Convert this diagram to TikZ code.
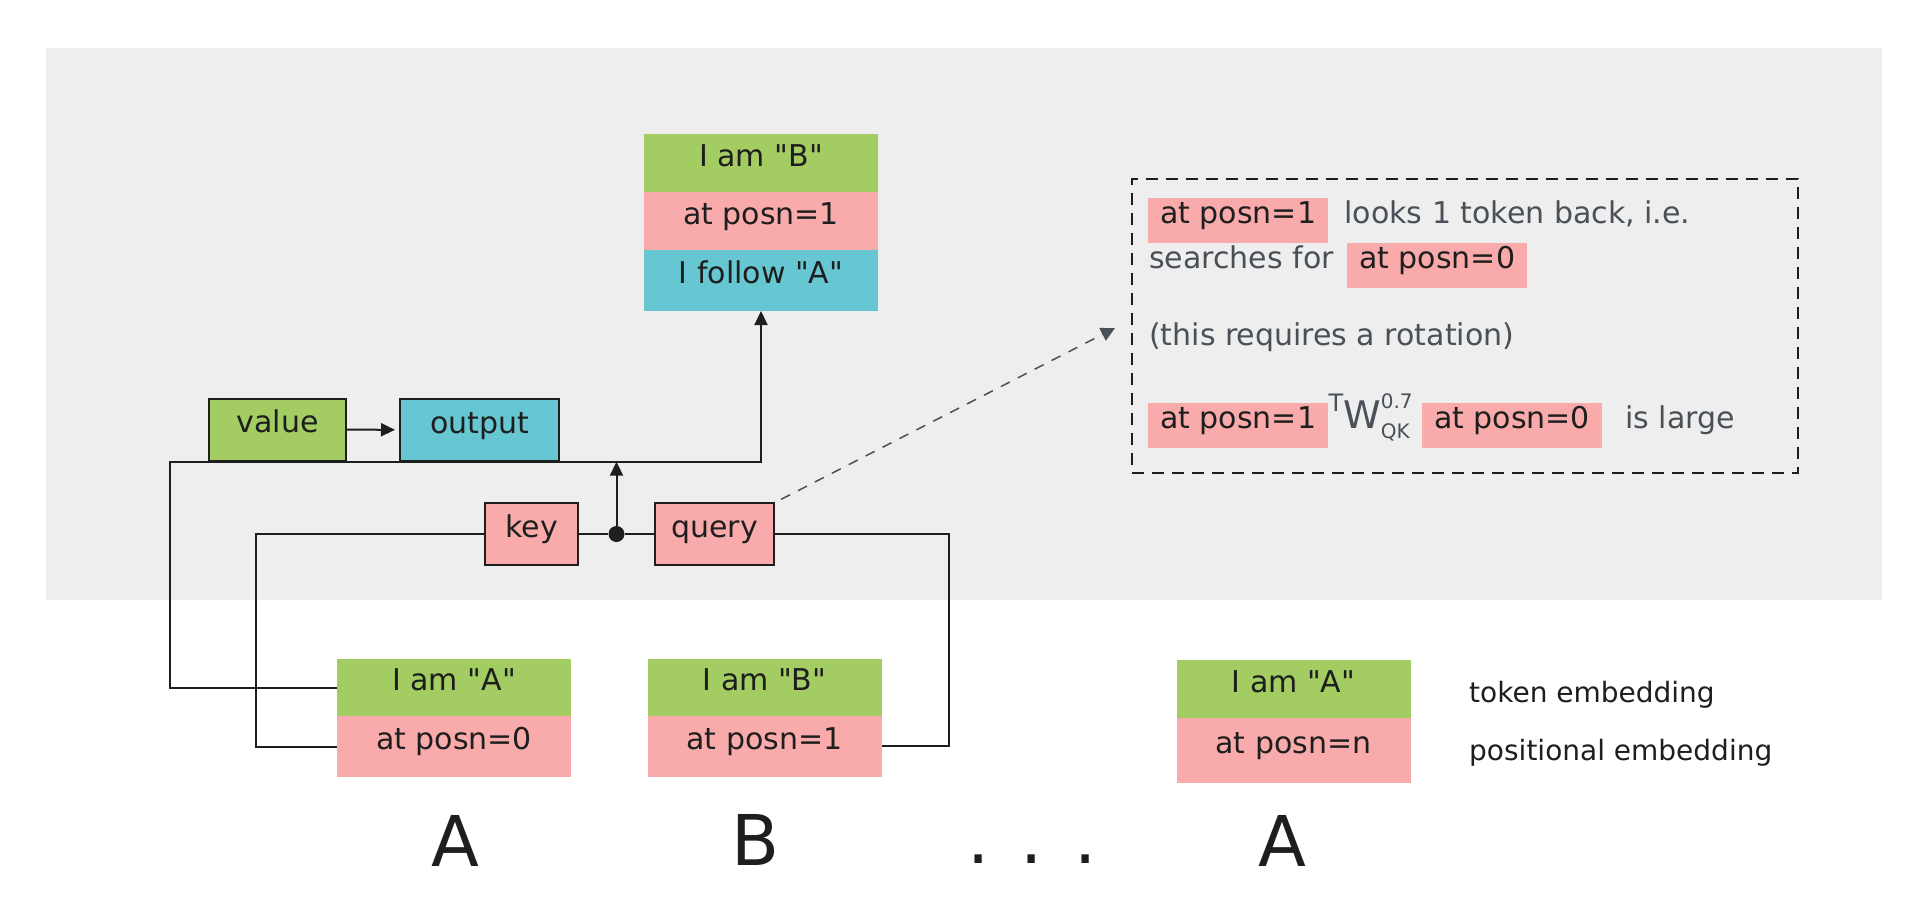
\documentclass[tikz,border=0pt]{standalone}
\usepackage{fontspec}
\setmainfont{DejaVu Sans}[Ligatures=TeXOff]
\usepackage{tikz}
\usetikzlibrary{calc,arrows.meta,positioning}
\definecolor{bggray}{HTML}{EEEEEE}
\definecolor{tokgreen}{HTML}{A3CC62}
\definecolor{pospink}{HTML}{F9ABAB}
\definecolor{outcyan}{HTML}{66C7D3}
\definecolor{ink}{HTML}{1E1E1E}
\definecolor{notegray}{HTML}{495057}
\newcommand{\boxfont}{\fontsize{30}{34}\selectfont}
\newcommand{\smallfont}{\fontsize{20}{20}\selectfont}
% transposed weight matrix with its subscript and power
\newcommand{\wqk}{\raisebox{0.55em}{\fontsize{24}{24}\selectfont T}{\fontsize{38}{38}\selectfont W}\rlap{\raisebox{0.65em}{\smallfont 0.7}}\raisebox{-0.35em}{\smallfont QK}}

\begin{document}
\begin{tikzpicture}[x=1pt,y=-1pt,
  row/.style={anchor=north west,inner sep=0pt,outer sep=0pt,minimum width=234pt,
    minimum height=58pt,text=ink,font=\boxfont,text height=0.82em,text depth=0.18em},
  op/.style={row,draw=ink,line width=2pt,minimum height=62pt},
  hl/.style={fill=pospink,text=ink,font=\boxfont,inner xsep=12pt,inner ysep=0pt,
    minimum height=45pt,anchor=west,text height=0.8em,text depth=0.2em},
  note/.style={text=notegray,font=\boxfont,inner sep=0pt,anchor=west,
    text height=0.8em,text depth=0.2em},
  wire/.style={draw=ink,line width=2pt},
  tip/.style={-{Triangle[length=14pt,width=13pt]}},
  pointer/.style={draw=notegray,line width=1.5pt,dash pattern=on 10pt off 9pt,
    -{Triangle[length=14pt,width=14pt]}},
  letter/.style={text=ink,font=\fontsize{70}{70}\selectfont,inner sep=0pt}]
\useasboundingbox (0,0) rectangle (1931,899);
\fill[bggray] (46,48) rectangle (1882,600);

% output of the head
\node[row,fill=tokgreen] (selfB) at (644,134) {I am "B"};
\node[row,fill=pospink,below=0pt of selfB] (posB1) {at posn=1};
\node[row,fill=outcyan,below=0pt of posB1,minimum height=61pt] (follow) {I follow "A"};

% value, output, key, query
\node[op,fill=tokgreen,minimum width=137pt] (value) at (209,398.5) {value};
\node[op,fill=outcyan,minimum width=159pt] (output) at (400,399) {output};
\node[op,fill=pospink,minimum width=93pt] (key) at (485,503) {key};
\node[op,fill=pospink,minimum width=119pt] (query) at (655,503) {query};
\node[circle,fill=ink,inner sep=0pt,minimum size=16pt] (join) at ($(key.east)!0.5!(query.west)$) {};

% token stacks
\node[row,fill=tokgreen,minimum height=57pt] (tokA) at (337,659) {I am "A"};
\node[row,fill=pospink,below=0pt of tokA,minimum height=61pt] (posA) {at posn=0};
\node[row,fill=tokgreen,minimum height=57pt] (tokB) at (647.5,658.5) {I am "B"};
\node[row,fill=pospink,below=0pt of tokB,minimum height=61pt] (posB) {at posn=1};
\node[row,fill=tokgreen] (tokN) at (1176.5,660) {I am "A"};
\node[row,fill=pospink,below=0pt of tokN,minimum height=65pt] (posN) {at posn=n};
\node[text=ink,font=\fontsize{28}{28}\selectfont,anchor=west,inner sep=0pt] (tokname) at (1469,695) {token embedding};
\node[text=ink,font=\fontsize{28}{28}\selectfont,anchor=west,inner sep=0pt] (posname) at (1469,753) {positional embedding};

% tokens
\node[letter] (wA) at (455,841) {A};
\node[letter] (wB) at (756,840) {B};
\node[letter] (dots) at (1032,859) {.\hspace{31pt}.\hspace{31pt}.};
\node[letter] (wA2) at (1282,841) {A};

% wires
\coordinate (vcorner) at (169.5,461.7);
\coordinate (kcorner) at (255.5,0);
\coordinate (qcorner) at (948.5,0);
\draw[wire,tip] (tokA.west) -| (vcorner) -| (follow.south);
\draw[wire] (key.west) -- (key.west -| kcorner) |- (posA.west);
\draw[wire] (query.east) -- (query.east -| qcorner) |- (posB.east);
\draw[wire] (key.east) -- (join) -- (query.west);
\draw[wire,tip] (join) -- (join |- vcorner);
\draw[wire,tip,shorten >=5pt] (value) -- (output);

% explanation
\node[draw=ink,line width=1.5pt,dash pattern=on 12pt off 8pt,anchor=north west,
  minimum width=666pt,minimum height=294pt,inner sep=0pt] (frame) at (1131,178) {};
\coordinate (notetip) at (1115,328);
\draw[pointer,shorten <=8pt] (query.north east) -- (notetip);

\node[hl] (q1) at (1148,220.5) {at posn=1};
\node[note,right=16pt of q1] (t1) {looks 1 token back, i.e.};
\node[note] (t2) at (1149,265) {searches for};
\node[hl,right=13pt of t2] (k1) {at posn=0};
\node[note] (t3) at (1149,342) {(this requires a rotation)};
\node[hl] (q2) at (1148,425) {at posn=1};
\node[note,right=0pt of q2] (w) {\wqk};
\node[hl,right=12pt of w] (k2) {at posn=0};
\node[note,right=23pt of k2] (t4) {is large};
\end{tikzpicture}
\end{document}
